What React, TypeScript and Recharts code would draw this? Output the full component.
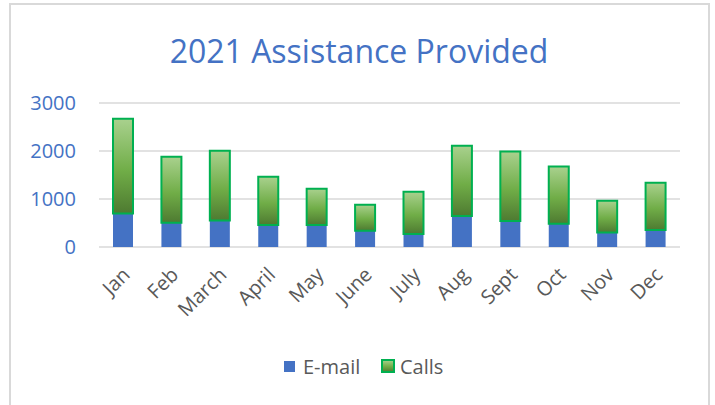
import { BarChart, Bar, XAxis, YAxis, CartesianGrid, Legend } from 'recharts';

const months = ['Jan', 'Feb', 'March', 'April', 'May', 'June', 'July', 'Aug', 'Sept', 'Oct', 'Nov', 'Dec'];
const email = [700, 505, 550, 460, 460, 340, 270, 645, 540, 485, 300, 355];
const calls = [1970, 1375, 1455, 1005, 755, 540, 880, 1465, 1450, 1190, 665, 985];
const yTicks = [0, 1000, 2000, 3000];

const data = months.map((m, i) => ({ month: m, email: email[i], calls: calls[i] }));

const FONT = '"Open Sans", sans-serif';
const BLUE = '#4472c4';
const GREY = '#595959';

function MonthTick({ x, y, payload }: any) {
  return (
    <g transform={`translate(${x + 8},${y + 29})`}>
      <text textAnchor="end" transform="rotate(-45)" fill={GREY} fontSize={20} fontFamily={FONT}>
        {payload.value}
      </text>
    </g>
  );
}

function LegendBox() {
  return (
    <svg width={715} height={40}>
      <rect x={284} y={11} width={11} height={11} fill={BLUE} />
      <text x={303} y={24} fill={GREY} fontSize={20} fontFamily={FONT}>E-mail</text>
      <rect x={382} y={10} width={12} height={12} fill="url(#callsFill)" stroke="#00b050" strokeWidth={2} />
      <text x={400} y={24} fill={GREY} fontSize={20} fontFamily={FONT}>Calls</text>
    </svg>
  );
}

export default function App() {
  return (
    <div style={{ position: 'absolute', left: 0, top: 0, width: 715, height: 405, overflow: 'hidden', background: '#fff' }}>
      <div
        style={{
          position: 'absolute',
          left: 9,
          top: 3,
          width: 701,
          height: 430,
          border: '2px solid #d9d9d9',
          boxSizing: 'border-box',
        }}
      />
      <svg style={{ position: 'absolute', left: 0, top: 0 }} width={715} height={90}>
        <text x={359} y={63} textAnchor="middle" fill={BLUE} fontSize={32} fontFamily={FONT}>
          2021 Assistance Provided
        </text>
      </svg>
      <div style={{ position: 'absolute', left: 0, top: 0 }}>
        <BarChart width={715} height={405} data={data} margin={{ top: 103, right: 35, left: 0, bottom: 0 }}>
          <defs>
            <linearGradient id="callsFill" x1="0" y1="0" x2="0" y2="1">
              <stop offset="0%" stopColor="#a9d18e" />
              <stop offset="55%" stopColor="#70ad47" />
              <stop offset="100%" stopColor="#4e7a31" />
            </linearGradient>
          </defs>
          <CartesianGrid vertical={false} stroke="#d9d9d9" strokeWidth={1.5} />
          <XAxis
            dataKey="month"
            height={158}
            axisLine={false}
            tickLine={false}
            tickSize={0}
            tickMargin={0}
            interval={0}
            tick={<MonthTick />}
          />
          <YAxis
            width={99}
            domain={[0, 3000]}
            ticks={yTicks}
            axisLine={false}
            tickLine={false}
            tickSize={0}
            tickMargin={23}
            tick={{ fill: BLUE, fontSize: 20, fontFamily: FONT }}
          />
          <Legend
            verticalAlign="middle"
            align="center"
            wrapperStyle={{ top: 350, left: 0, width: 715 }}
            content={<LegendBox />}
          />
          <Bar dataKey="email" stackId="a" fill={BLUE} barSize={20} isAnimationActive={false} />
          <Bar
            dataKey="calls"
            stackId="a"
            fill="url(#callsFill)"
            stroke="#00b050"
            strokeWidth={2}
            barSize={20}
            isAnimationActive={false}
          />
        </BarChart>
      </div>
    </div>
  );
}
